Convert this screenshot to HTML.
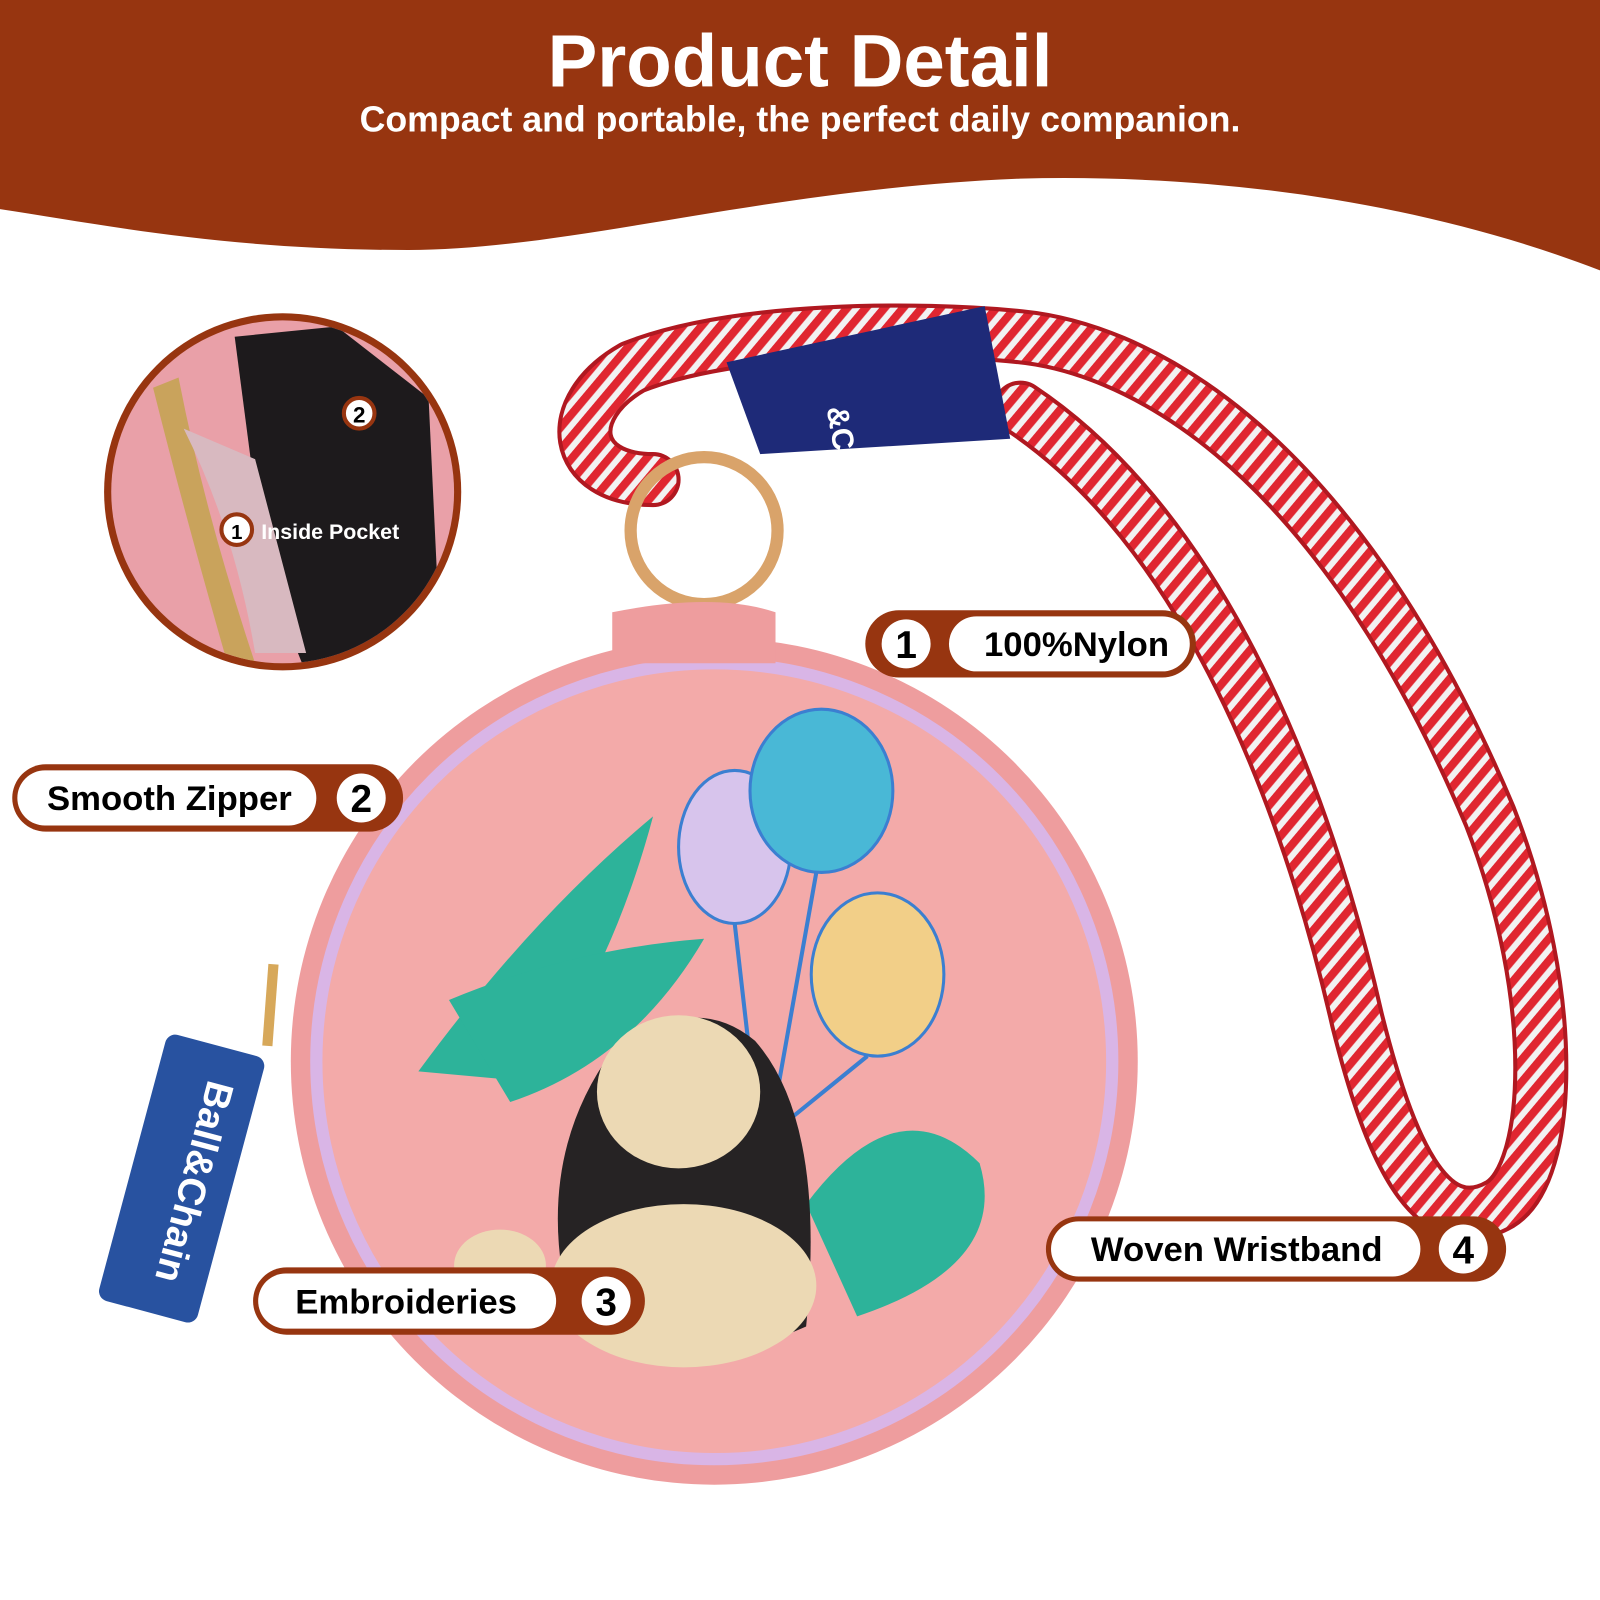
<!DOCTYPE html>
<html><head><meta charset="utf-8"><style>
html,body{margin:0;padding:0;background:#fff;width:1600px;height:1600px;overflow:hidden}
svg{display:block}
text{font-family:"Liberation Sans",sans-serif;font-weight:bold}
</style></head><body>
<svg width="1600" height="1600" viewBox="0 0 1568 1568" xmlns="http://www.w3.org/2000/svg">
<defs>
<pattern id="rope" width="14" height="14" patternUnits="userSpaceOnUse" patternTransform="rotate(40)">
<rect width="14" height="14" fill="#f2f2f2"/><rect width="8" height="14" fill="#e02630"/>
</pattern>
<clipPath id="inset"><circle cx="277" cy="482" r="168"/></clipPath>
</defs>
<path d="M0 0H1568V265C1400 200 1200 170 1000 175C750 185 560 245 400 245C220 245 100 220 0 205Z" fill="#973510"/>
<text x="784" y="85" text-anchor="middle" fill="#fff" font-size="73">Product Detail</text>
<text x="784" y="129" text-anchor="middle" fill="#fff" font-size="35">Compact and portable, the perfect daily companion.</text>

<!-- inset -->
<circle cx="277" cy="482" r="175" fill="#973510"/>
<g clip-path="url(#inset)">
<rect x="100" y="300" width="360" height="360" fill="#e9a0a8"/>
<path d="M230 330L330 320L420 390L430 600L300 660L260 560Z" fill="#1d1a1c"/>
<path d="M150 380Q180 500 220 640L250 650Q200 500 175 370Z" fill="#c9a35c"/>
<path d="M180 420Q230 520 250 640L300 640L250 450Z" fill="#d8b9c0"/>
</g>
<circle cx="352" cy="405" r="15" fill="#fff" stroke="#973510" stroke-width="4"/>
<text x="352" y="414" text-anchor="middle" font-size="22" fill="#000">2</text>
<circle cx="232" cy="519" r="15" fill="#fff" stroke="#973510" stroke-width="4"/>
<text x="232" y="528" text-anchor="middle" font-size="20" fill="#000">1</text>
<text x="256" y="528" fill="#fff" font-size="21">Inside Pocket</text>

<!-- strap -->
<g fill="none" stroke-linecap="round">
<path d="M640 470C560 470 550 400 620 360C720 320 900 320 1000 330C1100 340 1300 420 1460 800C1530 980 1520 1150 1470 1180C1400 1220 1360 1120 1330 1000C1280 780 1180 520 1000 400" stroke="#b01820" stroke-width="54"/>
<path d="M640 470C560 470 550 400 620 360C720 320 900 320 1000 330C1100 340 1300 420 1460 800C1530 980 1520 1150 1470 1180C1400 1220 1360 1120 1330 1000C1280 780 1180 520 1000 400" stroke="url(#rope)" stroke-width="46"/>
</g>
<path d="M712 355L965 300L990 430L745 445Z" fill="#1e2a78"/>
<text x="810" y="400" fill="#fff" font-size="30" transform="rotate(80 810 400)">&amp;Chai</text>
<circle cx="690" cy="520" r="72" fill="none" stroke="#d9a36a" stroke-width="12"/>

<!-- purse -->
<circle cx="700" cy="1040" r="415" fill="#ee9d9e"/>
<circle cx="700" cy="1040" r="390" fill="#f3aaa9" stroke="#d9b5e6" stroke-width="12"/>
<path d="M600 600Q700 580 760 600L760 650L600 650Z" fill="#ee9d9e"/>
<g fill="#2db39a">
<path d="M410 1050Q520 900 640 800Q600 950 520 1060Z"/>
<path d="M440 980Q560 930 690 920Q620 1040 500 1080Z"/>
<path d="M790 1180Q880 1060 960 1140Q990 1240 840 1290Z"/>
</g>
<ellipse cx="720" cy="830" rx="55" ry="75" fill="#d7c4ec" stroke="#3b7fd1" stroke-width="3"/>
<ellipse cx="805" cy="775" rx="70" ry="80" fill="#49b8d6" stroke="#3b7fd1" stroke-width="3"/>
<ellipse cx="860" cy="955" rx="65" ry="80" fill="#f2cf88" stroke="#3b7fd1" stroke-width="3"/>
<path d="M720 905L740 1080M800 855L760 1080M850 1035L770 1100" stroke="#3b7fd1" stroke-width="4" fill="none"/>
<path d="M560 1290Q520 1140 600 1030Q680 970 740 1020Q810 1100 790 1300Q680 1350 560 1290Z" fill="#262324"/>
<ellipse cx="665" cy="1070" rx="80" ry="75" fill="#ecd9b4"/>
<ellipse cx="670" cy="1260" rx="130" ry="80" fill="#ecd9b4"/>
<ellipse cx="490" cy="1240" rx="45" ry="35" fill="#ecd9b4"/>
<!-- zipper tag -->
<rect x="128" y="1020" width="100" height="270" rx="10" fill="#2852a0" transform="rotate(15 178 1155)"/>
<text x="178" y="1155" fill="#fff" font-size="38" text-anchor="middle" transform="rotate(105 178 1155)">Ball&amp;Chain</text>
<path d="M268 945L262 1025" stroke="#d7a85a" stroke-width="10"/>

<!-- labels -->
<g>
<rect x="848" y="598" width="324" height="66" rx="33" fill="#973510"/>
<rect x="930" y="604" width="236" height="54" rx="27" fill="#fff"/>
<circle cx="888" cy="631" r="24" fill="#fff"/>
<text x="888" y="645" text-anchor="middle" font-size="38">1</text>
<text x="1055" y="643" text-anchor="middle" font-size="34">100%Nylon</text>

<rect x="12" y="749" width="383" height="66" rx="33" fill="#973510"/>
<rect x="17" y="755" width="293" height="54" rx="27" fill="#fff"/>
<circle cx="354" cy="782" r="24" fill="#fff"/>
<text x="354" y="796" text-anchor="middle" font-size="38">2</text>
<text x="166" y="794" text-anchor="middle" font-size="34">Smooth Zipper</text>

<rect x="248" y="1242" width="384" height="66" rx="33" fill="#973510"/>
<rect x="253" y="1248" width="292" height="54" rx="27" fill="#fff"/>
<circle cx="594" cy="1275" r="24" fill="#fff"/>
<text x="594" y="1289" text-anchor="middle" font-size="38">3</text>
<text x="398" y="1287" text-anchor="middle" font-size="34">Embroideries</text>

<rect x="1025" y="1192" width="451" height="64" rx="32" fill="#973510"/>
<rect x="1030" y="1197" width="362" height="54" rx="27" fill="#fff"/>
<circle cx="1434" cy="1224" r="24" fill="#fff"/>
<text x="1434" y="1238" text-anchor="middle" font-size="38">4</text>
<text x="1212" y="1236" text-anchor="middle" font-size="34">Woven Wristband</text>
</g>
</svg>
</body></html>
